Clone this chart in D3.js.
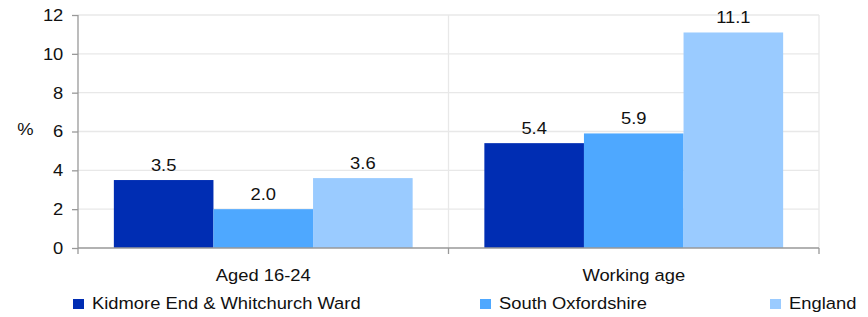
<!DOCTYPE html>
<html><head><meta charset="utf-8">
<script src="https://cdn.jsdelivr.net/npm/d3@7"></script>
<style>body{margin:0;background:#fff}svg{display:block}text{font-family:"Liberation Sans",Arial,sans-serif;fill:#111}</style>
</head><body><svg id="c" width="868" height="317"></svg>
<script>
const categories = ["Aged 16-24", "Working age"];
const seriesNames = ["Kidmore End & Whitchurch Ward", "South Oxfordshire", "England"];
const kidmore = [3.5, 5.4];
const southOx = [2.0, 5.9];
const england = [3.6, 11.1];
const yTicks = [0, 2, 4, 6, 8, 10, 12];
const colors = ["#002db3", "#4ea8ff", "#9acbff"];
const seriesValues = [kidmore, southOx, england];

const FS = 17, SX = 1.08;
const svg = d3.select("#c");
const pL = 78, pR = 819, pT = 15, pB = 248;
const x0 = d3.scaleBand().domain(categories).range([pL, pR]);
const x1 = d3.scaleBand().domain(seriesNames).range([0, x0.bandwidth()]).paddingOuter(0.36).paddingInner(0);
const y = d3.scaleLinear().domain([0, 12]).range([pB, pT]);

function label(g, x, yy, txt, anchor) {
  return g.append("text").attr("transform", `translate(${x},${yy}) scale(${SX},1)`)
    .attr("text-anchor", anchor || "middle").attr("font-size", FS).text(txt);
}

// gridlines
svg.append("g").selectAll("line").data(yTicks.filter(d => d > 0)).join("line")
  .attr("x1", pL).attr("x2", pR).attr("y1", d => y(d)).attr("y2", d => y(d))
  .attr("stroke", "#e8e8e8").attr("stroke-width", 1.3);
const bounds = categories.map(c => x0(c) + x0.bandwidth());
svg.append("g").selectAll("line").data(bounds).join("line")
  .attr("x1", d => d).attr("x2", d => d).attr("y1", pT).attr("y2", pB)
  .attr("stroke", "#e8e8e8").attr("stroke-width", 1.3);

// bars
categories.forEach((c, ci) => {
  seriesNames.forEach((s, si) => {
    const v = seriesValues[si][ci];
    svg.append("rect").attr("x", x0(c) + x1(s)).attr("width", x1.bandwidth())
      .attr("y", y(v)).attr("height", y(0) - y(v)).attr("fill", colors[si]);
    label(svg, x0(c) + x1(s) + x1.bandwidth() / 2, y(v) - 9, v.toFixed(1));
  });
});

// y axis
const yAxis = d3.axisLeft(y).tickValues(yTicks).tickSize(6).tickPadding(7.6).tickFormat(d3.format("d"));
const gy = svg.append("g").attr("transform", `translate(${pL},0)`).call(yAxis);
gy.selectAll("text").attr("font-size", FS).style("font-family", '"Liberation Sans",Arial,sans-serif')
  .attr("fill", "#111").attr("transform", `scale(${SX},1)`);
gy.selectAll("line,path").attr("stroke", "#999").attr("stroke-width", 1.3);
gy.select(".domain").attr("d", `M0,${pT}V${pB}`);

// x axis
const gx = svg.append("g").attr("transform", `translate(0,${pB})`);
gx.append("line").attr("x1", pL).attr("x2", pR).attr("stroke", "#999").attr("stroke-width", 1.3);
gx.selectAll(".tk").data([pL].concat(bounds)).join("line").attr("class", "tk")
  .attr("x1", d => d).attr("x2", d => d).attr("y1", 0).attr("y2", 6).attr("stroke", "#999").attr("stroke-width", 1.3);
categories.forEach(c => label(gx, x0(c) + x0.bandwidth() / 2, 33.3, c));

label(svg, 25.5, 135, "%");

// legend
const legX = [73, 480, 770];
seriesNames.forEach((s, i) => {
  svg.append("rect").attr("x", legX[i]).attr("y", 299).attr("width", 11).attr("height", 10).attr("fill", colors[i]);
  label(svg, legX[i] + 19, 309, s, "start");
});
</script></body></html>
